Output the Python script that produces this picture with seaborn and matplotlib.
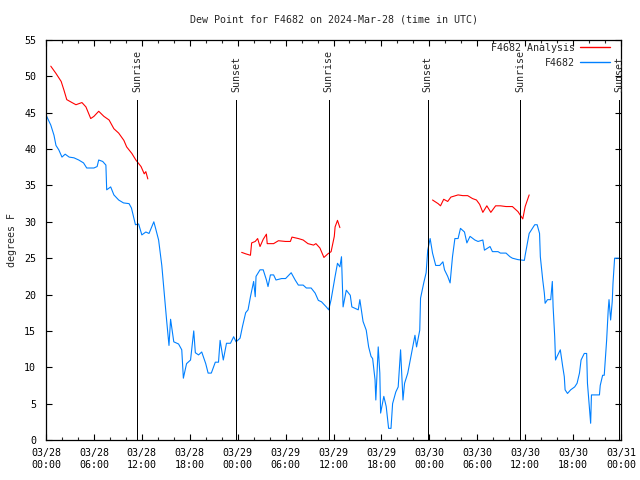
import numpy as np
import pandas as pd
import matplotlib
matplotlib.use("Agg")
import matplotlib.pyplot as plt
import matplotlib.dates as mdates
from matplotlib.lines import Line2D
import seaborn as sns

# ---------------- data ----------------
base = pd.Timestamp("2024-03-28 00:00")

obs_hours = [0.0, 0.6, 1.0, 1.25, 1.6, 2.0, 2.4, 2.9, 3.5, 4.1, 4.7, 5.1, 6.0, 6.4, 6.6, 7.1, 7.5, 7.6,
             8.1, 8.5, 9.1, 9.7, 10.4, 10.7, 11.0, 11.2, 11.6, 12.0, 12.5, 12.9, 13.5, 13.7, 14.1,
             14.5, 14.9, 15.1, 15.4, 15.6, 16.0, 16.6, 17.0, 17.2, 17.6, 18.1, 18.5, 18.7, 19.1,
             19.5, 20.0, 20.3, 20.7, 21.2, 21.6, 21.8, 22.2, 22.6, 23.1, 23.5, 23.8, 24.3, 24.6,
             25.0, 25.3, 25.6, 26.0, 26.2, 26.3, 26.8, 27.2, 27.6, 27.8, 28.1, 28.5, 28.8, 29.5,
             30.0, 30.7, 31.2, 31.6, 32.2, 32.6, 33.2, 33.7, 34.1, 34.5, 35.1, 35.4, 35.7, 36.2,
             36.5, 36.8, 37.0, 37.2, 37.6, 38.1, 38.3, 38.7, 39.1, 39.3, 39.7, 40.1, 40.4, 40.7,
             40.9, 41.2, 41.3, 41.6, 41.8, 41.9, 42.3, 42.6, 42.9, 43.2, 43.4, 43.8, 44.1, 44.4,
             44.7, 44.9, 45.3, 45.7, 46.2, 46.4, 46.8, 46.9, 47.3, 47.6, 47.8, 48.1, 48.4, 48.8,
             49.3, 49.7, 49.9, 50.3, 50.6, 50.9, 51.2, 51.6, 51.9, 52.4, 52.7, 53.1, 53.7, 54.1,
             54.7, 54.9, 55.6, 55.9, 56.6, 56.9, 57.6, 58.1, 58.4, 59.1, 59.9, 60.0, 60.5, 61.2,
             61.5, 61.8, 61.9, 62.2, 62.4, 62.5, 62.8, 63.2, 63.4, 63.5, 63.7, 63.8, 64.0, 64.4,
             64.7, 64.9, 65.0, 65.3, 65.7, 66.2, 66.5, 66.8, 67.0, 67.4, 67.7, 67.8, 68.0, 68.2,
             68.3, 68.8, 69.3, 69.4, 69.7, 69.9, 70.2, 70.4, 70.5, 70.7, 70.9, 71.0, 71.2, 71.7]
obs_dew = [44.7, 43.3, 41.9, 40.5, 39.9, 38.9, 39.3, 38.9, 38.8, 38.5, 38.1, 37.4, 37.4, 37.6, 38.5,
           38.3, 37.8, 34.4, 34.8, 33.7, 33.0, 32.6, 32.5, 31.9, 30.5, 29.6, 29.7, 28.2, 28.6, 28.4,
           30.0, 29.2, 27.5, 24.0, 19.0, 16.5, 13.0, 16.6, 13.5, 13.2, 12.4, 8.5, 10.5, 11.0, 15.0,
           12.0, 11.7, 12.1, 10.5, 9.2, 9.2, 10.7, 10.7, 13.7, 11.0, 13.3, 13.3, 14.2, 13.5, 14.0,
           15.6, 17.5, 17.9, 19.7, 21.8, 19.7, 22.5, 23.4, 23.4, 22.0, 21.1, 22.7, 22.7, 22.0, 22.2,
           22.2, 23.0, 22.0, 21.3, 21.3, 20.9, 20.9, 20.2, 19.2, 19.0, 18.3, 17.9, 19.3, 22.5, 24.3,
           23.8, 25.2, 18.3, 20.6, 19.9, 18.3, 18.1, 17.9, 19.3, 16.3, 15.1, 12.8, 11.5, 11.2, 8.3,
           5.5, 12.8, 9.2, 3.7, 6.0, 4.6, 1.6, 1.6, 5.0, 6.6, 7.3, 12.4, 5.5, 7.8, 9.2, 11.5, 14.4,
           12.8, 15.1, 19.5, 21.6, 23.0, 26.1, 27.7, 25.7, 24.0, 24.0, 24.5, 23.4, 22.5, 21.6, 25.2,
           27.7, 27.7, 29.1, 28.6, 27.1, 28.0, 27.5, 27.3, 27.5, 26.1, 26.6, 25.9, 25.9, 25.7, 25.7,
           25.2, 25.0, 24.8, 24.7, 25.4, 28.4, 29.6, 29.6, 28.4, 25.2, 22.0, 20.2, 18.8, 19.3, 19.3,
           21.8, 18.3, 14.2, 11.0, 11.5, 12.4, 10.1, 8.7, 6.9, 6.4, 6.9, 7.3, 7.8, 9.2, 11.0, 11.9,
           11.9, 7.8, 5.0, 2.3, 6.2, 6.2, 6.2, 7.5, 8.9, 8.9, 13.7, 17.9, 19.3, 16.5, 19.0, 21.6,
           25.0, 25.0]

ana1_hours = [0.6, 1.25, 1.9, 2.25, 2.6, 3.25, 3.75, 4.5, 5.0, 5.6, 6.0, 6.6, 7.25, 7.9, 8.5, 9.1,
              9.75, 10.1, 10.75, 11.25, 11.9, 12.3, 12.5, 12.75]
ana1_dew = [51.4, 50.4, 49.3, 48.1, 46.8, 46.4, 46.1, 46.4, 45.8, 44.2, 44.5, 45.2, 44.5, 44.0, 42.8,
            42.2, 41.2, 40.3, 39.4, 38.5, 37.6, 36.6, 36.9, 35.9]
ana2_hours = [24.5, 25.0, 25.6, 25.75, 26.2, 26.5, 26.8, 27.2, 27.6, 27.7, 28.5, 29.1, 30.0, 30.6,
              30.8, 31.6, 32.2, 32.8, 33.5, 33.8, 34.3, 34.8, 35.3, 35.7, 36.1, 36.2, 36.5, 36.8]
ana2_dew = [25.8, 25.6, 25.4, 27.1, 27.3, 27.7, 26.6, 27.6, 28.3, 27.0, 27.0, 27.4, 27.3, 27.3, 27.9,
            27.7, 27.5, 27.0, 26.8, 27.0, 26.4, 25.1, 25.6, 25.9, 28.0, 29.3, 30.2, 29.2]
ana3_hours = [48.4, 49.1, 49.4, 49.8, 50.3, 50.7, 51.6, 52.2, 52.8, 53.4, 53.9, 54.3, 54.7, 55.2,
              55.7, 56.3, 56.9, 57.6, 58.4, 59.1, 59.7, 60.0, 60.5]
ana3_dew = [33.0, 32.5, 32.2, 33.1, 32.8, 33.4, 33.7, 33.6, 33.6, 33.2, 33.0, 32.4, 31.3, 32.2, 31.3,
            32.2, 32.2, 32.1, 32.1, 31.4, 30.4, 32.1, 33.7]

sun_events = ["Sunrise", "Sunset", "Sunrise", "Sunset", "Sunrise", "Sunset"]
sun_hours = [11.42, 23.78, 35.42, 47.8, 59.38, 71.8]

title = "Dew Point for F4682 on 2024-Mar-28 (time in UTC)"
ylabel = "degrees F"
label_ana = "F4682 Analysis"
label_obs = "F4682"

# ---------------- frames ----------------
def to_time(h):
    return base + pd.to_timedelta(np.asarray(h), unit="h")

obs_df = pd.DataFrame({"time": to_time(obs_hours), "dew": obs_dew})
ana_df = pd.concat([
    pd.DataFrame({"time": to_time(ana1_hours), "dew": ana1_dew, "seg": 1}),
    pd.DataFrame({"time": to_time(ana2_hours), "dew": ana2_dew, "seg": 2}),
    pd.DataFrame({"time": to_time(ana3_hours), "dew": ana3_dew, "seg": 3}),
], ignore_index=True)

# ---------------- style ----------------
sns.set_style("ticks")
plt.rcParams["font.family"] = ["DejaVu Sans Mono"]
plt.rcParams["font.size"] = 7.2

RED = "#ff0000"
BLUE = "#0080ff"
LW = 0.72  # one pixel

fig = plt.figure(figsize=(6.4, 4.8), dpi=100)
ax = fig.add_axes([46 / 640, 40 / 480, 575 / 640, 400 / 480])

for seg, sub in ana_df.groupby("seg"):
    sns.lineplot(data=sub, x="time", y="dew", ax=ax, color=RED, linewidth=0.8,
                 estimator=None, sort=False, legend=False)
sns.lineplot(data=obs_df, x="time", y="dew", ax=ax, color=BLUE, linewidth=0.8,
             estimator=None, sort=False, legend=False)

ax.set_ylim(0, 55)
ax.set_xlim(base, base + pd.Timedelta(hours=72))
ax.set_yticks(range(0, 56, 5))

for name, h in zip(sun_events, sun_hours):
    t = base + pd.Timedelta(hours=h)
    ax.axvline(t, ymin=0, ymax=46.8 / 55, color="black", lw=LW, antialiased=False)
    ax.text(t, 47.9, name, rotation=90, ha="center", va="bottom", fontsize=7.2)

ax.xaxis.set_major_locator(mdates.HourLocator(byhour=range(0, 24, 6)))
ax.xaxis.set_minor_locator(mdates.HourLocator(byhour=range(0, 24, 2)))
ax.xaxis.set_major_formatter(mdates.DateFormatter("%m/%d\n%H:%M"))

ax.tick_params(axis="both", which="major", direction="in", length=4, width=0.8,
               top=True, right=True, labelsize=7.2, colors="black")
ax.tick_params(axis="both", which="minor", direction="in", length=2.5, width=0.8,
               top=True, right=True)
ax.tick_params(axis="x", which="major", pad=6)
ax.tick_params(axis="y", which="major", pad=7)
for s in ax.spines.values():
    s.set_linewidth(0.9)
    s.set_color("black")

ax.set_xlabel("")
ax.set_ylabel(ylabel, fontsize=7.2, labelpad=5)
fig.text(333.5 / 640, 1 - 20 / 480, title, ha="center", va="center", fontsize=7.2)

handles = [Line2D([], [], color=RED, lw=1.0), Line2D([], [], color=BLUE, lw=1.0)]
ax.legend(handles, [label_ana, label_obs], loc="upper right",
          bbox_to_anchor=(1 - 11 / 575, 1 - 3 / 400), frameon=False, markerfirst=False,
          handlelength=3.0, handletextpad=0.5, borderaxespad=0, borderpad=0,
          labelspacing=0.5, fontsize=7.2)

fig.savefig("out.png", dpi=100)
